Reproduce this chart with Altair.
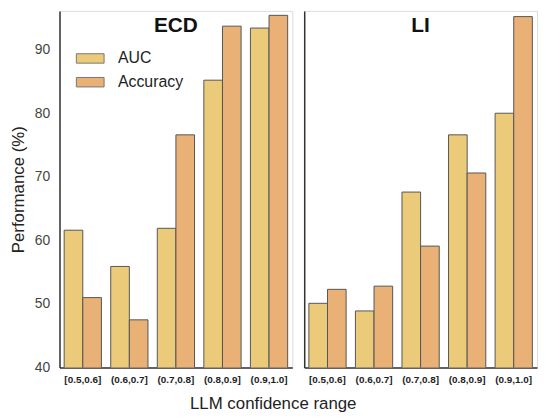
import altair as alt
import pandas as pd

ranges = ["[0.5,0.6]", "(0.6,0.7]", "(0.7,0.8]", "(0.8,0.9]", "(0.9,1.0]"]
metrics = ["AUC", "Accuracy"]
panels = ["ECD", "LI"]
ecd_auc = [61.6, 55.9, 61.9, 85.2, 93.4]
ecd_acc = [51.0, 47.5, 76.6, 93.7, 95.4]
li_auc = [50.1, 48.9, 67.6, 76.6, 80.0]
li_acc = [52.3, 52.8, 59.1, 70.6, 95.2]
colors = ["#EBCB7A", "#E9B176"]
y_ticks = [40, 50, 60, 70, 80, 90]

FONT = "Liberation Sans"
W, H = 235, 360


def panel_df(auc, acc):
    rows = []
    for r, a, c in zip(ranges, auc, acc):
        rows.append({"range": r, "metric": "AUC", "value": a})
        rows.append({"range": r, "metric": "Accuracy", "value": c})
    return pd.DataFrame(rows)


def panel(name, df, left):
    if left:
        yaxis = alt.Axis(title="Performance (%)", values=y_ticks, grid=False, ticks=False,
                         tickSize=0, labelFontSize=14, labelColor="#444", labelPadding=10,
                         titleFontSize=17, titleFontWeight="normal", titleColor="#222",
                         titlePadding=7, domainColor="#333", domainWidth=1.5)
        legend = alt.Legend(title=None, orient="none", legendX=23, legendY=40,
                            symbolType="M-2,-0.68L2,-0.68L2,0.68L-2,0.68Z",
                            symbolSize=196, symbolStrokeColor="#777", symbolStrokeWidth=1,
                            labelFontSize=16, labelColor="#222", rowPadding=8,
                            labelOffset=20, padding=0)
    else:
        yaxis = alt.Axis(title=None, labels=False, ticks=False, tickSize=0, grid=False,
                         domainColor="#333", domainWidth=1.5)
        legend = None
    bars = alt.Chart(df).mark_bar(stroke="#555", strokeWidth=1, clip=True).encode(
        x=alt.X("range:N", sort=ranges,
                scale=alt.Scale(paddingInner=0.2, paddingOuter=0.1),
                axis=alt.Axis(title=None, labelAngle=0, labelFontWeight="bold",
                              labelFontSize=10, labelColor="#222", ticks=False, tickSize=0,
                              labelPadding=7, domainColor="#333", domainWidth=1.5)),
        xOffset=alt.XOffset("metric:N", sort=metrics),
        y=alt.Y("value:Q", scale=alt.Scale(domain=[40, 96.1], nice=False, zero=False),
                axis=yaxis),
        color=alt.Color("metric:N", sort=metrics,
                        scale=alt.Scale(domain=metrics, range=colors), legend=legend),
    )
    label = alt.Chart(pd.DataFrame({"name": [name]})).mark_text(
        font=FONT, fontSize=21, fontWeight="bold", color="#111", baseline="middle",
        align="center"
    ).encode(text="name:N", x=alt.value(W / 2), y=alt.value(15))
    return alt.layer(bars, label).properties(width=W, height=H)


left = panel(panels[0], panel_df(ecd_auc, ecd_acc), True)
right = panel(panels[1], panel_df(li_auc, li_acc), False)

chart = alt.hconcat(left, right, spacing=10).resolve_scale(color="independent").properties(
    title=alt.TitleParams("LLM confidence range", orient="bottom", anchor="middle",
                          fontSize=17, fontWeight="normal", color="#222", font=FONT,
                          offset=11),
    padding={"left": 0, "top": 0, "right": 0, "bottom": 0},
).configure_view(stroke=None).configure(font=FONT)

chart.save("out.html", embed_options={"renderer": "svg", "actions": False})
